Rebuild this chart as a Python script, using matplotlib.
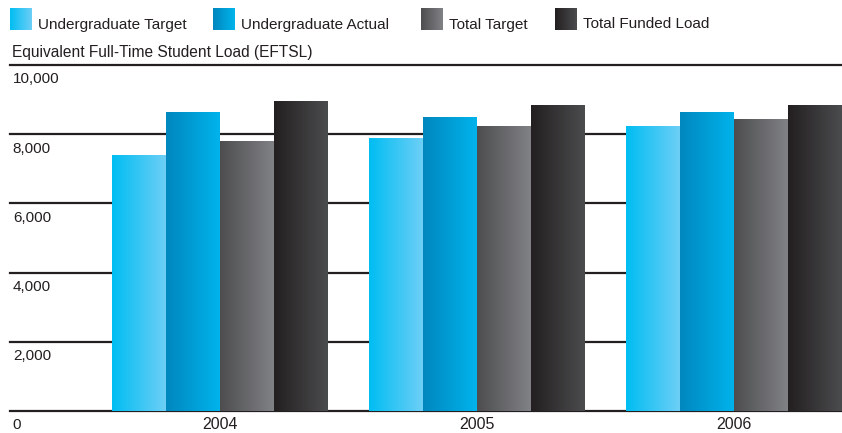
import numpy as np
import matplotlib.pyplot as plt
from matplotlib.colors import LinearSegmentedColormap

# Data
years = ['2004', '2005', '2006']
series = ['Undergraduate Target', 'Undergraduate Actual', 'Total Target', 'Total Funded Load']
ug_target = [7390, 7880, 8230]
ug_actual = [8630, 8510, 8630]
total_target = [7790, 8230, 8430]
total_funded = [8950, 8830, 8830]
yticks = [0, 2000, 4000, 6000, 8000, 10000]

values = [ug_target, ug_actual, total_target, total_funded]
# left -> right colour of each bar gradient
grads = [('#00BDF2', '#6DCFF6'),
         ('#0087BE', '#00B3EC'),
         ('#4D4D4F', '#818286'),
         ('#231F20', '#4B4C4E')]
ink = '#231F20'
font = ['Liberation Sans', 'DejaVu Sans']
narrow = ['Liberation Sans Narrow', 'Liberation Sans', 'DejaVu Sans']

fig = plt.figure(figsize=(8.42, 4.33), dpi=100)
ax = fig.add_axes([10/842, 22/433, 832/842, 346/433])

x = np.arange(len(years))
w = 0.21
gradient = np.linspace(0, 1, 256).reshape(1, -1)
for i, (vals, (c0, c1)) in enumerate(zip(values, grads)):
    cmap = LinearSegmentedColormap.from_list('g%d' % i, [c0, c1])
    bars = ax.bar(x + (i - 1.5) * w, vals, w, color='none', edgecolor='none', zorder=2)
    for b in bars:
        x0, y0 = b.get_x(), b.get_y()
        im = ax.imshow(gradient, cmap=cmap, aspect='auto', zorder=2,
                       extent=(x0, x0 + b.get_width(), y0, y0 + b.get_height()))
        im.set_clip_path(b)

ax.set_xlim(-0.817, 2.42)
ax.set_ylim(0, 10000)
for s in ax.spines.values():
    s.set_visible(False)

# horizontal rules with labels sitting below them
for t in yticks:
    ax.axhline(t, color=ink, lw=1.6, zorder=1, clip_on=False)
    ax.annotate('{:,}'.format(t), xy=(0, t), xycoords=ax.get_yaxis_transform(),
                xytext=(2, -13.2), textcoords='offset points', ha='left', va='baseline',
                fontsize=11, color=ink, family=font)
ax.set_yticks([])
ax.set_xticks(x)
ax.set_xticklabels(years, fontsize=11.5, color=ink, family=narrow)
ax.tick_params(axis='x', length=0, pad=4)

fig.text(12/842, 1 - 57/433, 'Equivalent Full-Time Student Load (EFTSL)',
         ha='left', va='baseline', fontsize=11.2, color=ink, family=font)

# legend: gradient swatches plus labels
sw_x = [10, 213, 421, 555]
for name, (c0, c1), sx in zip(series, grads, sw_x):
    sax = fig.add_axes([sx/842, 1 - 30/433, 22/842, 22/433])
    cmap = LinearSegmentedColormap.from_list('l' + name, [c0, c1])
    sax.imshow(gradient, cmap=cmap, aspect='auto')
    sax.axis('off')
    fig.text((sx + 28)/842, 1 - 28.5/433, name, ha='left', va='baseline',
             fontsize=11, color=ink, family=font)

fig.savefig('out.png', dpi=100)
